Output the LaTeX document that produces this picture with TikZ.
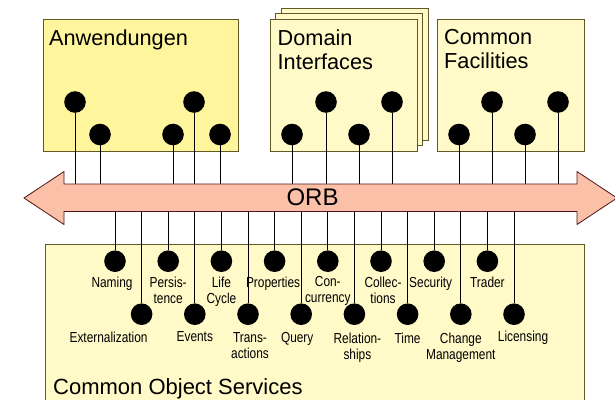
\documentclass[tikz,border=0pt]{standalone}
\usepackage{fontspec}
\setmainfont{Liberation Sans}
\newfontfamily\narrowsf[FakeStretch=0.82]{Liberation Sans}
\usetikzlibrary{positioning}
\definecolor{appyellow}{RGB}{255,245,157}
\definecolor{paleyellow}{RGB}{255,250,200}
\definecolor{boxedge}{RGB}{95,90,40}
\definecolor{orbfill}{RGB}{250,192,168}
\definecolor{orbedge}{RGB}{80,20,20}
\begin{document}
\begin{tikzpicture}[x=1pt,y=-1pt,
  dot/.style={circle,fill=black,minimum size=21.6pt,inner sep=0pt,outer sep=0pt},
  lab/.style={font=\narrowsf\fontsize{14.5}{16}\selectfont,inner sep=0pt,align=center},
  ttl/.style={font=\fontsize{21.7}{24}\selectfont,inner sep=0pt,align=left,anchor=north west},
  box/.style={draw=boxedge,line width=1pt},
  pin/.style={line width=0.8pt}]
\useasboundingbox (0,0) rectangle (615,399);
\clip (0,0) rectangle (615,399);
% boxes
\draw[box,fill=appyellow] (43,19) rectangle (238,151);
\draw[box,fill=paleyellow] (281,8) rectangle (428,140);
\draw[box,fill=paleyellow] (275.5,13.5) rectangle (422.5,145.5);
\draw[box,fill=paleyellow] (270,19) rectangle (417,151);
\draw[box,fill=paleyellow] (437,19) rectangle (584,151);
\draw[box,fill=paleyellow] (45,244) rectangle (584,420);
\node[ttl] (anw) at (49,29.3) {Anwendungen};
\node[ttl] (dom) at (277.5,29.5) {Domain\\Interfaces};
\node[ttl] (fac) at (444,29.5) {Common\\Facilities};
\node[ttl,font=\fontsize{22}{24}\selectfont] (cos) at (53,378) {Common Object Services};
% ORB
\coordinate (orbt) at (0,184);
\coordinate (orbb) at (0,211.5);
\draw[fill=orbfill,draw=orbedge,line width=0.8pt] (24,198) -- (64,171.5) -- (64,184) -- (577,184) -- (577,171.5) -- (617,198) -- (577,224.5) -- (577,211.5) -- (64,211.5) -- (64,224.5) -- cycle;
\node[font=\fontsize{24}{26}\selectfont,inner sep=0pt] (orb) at (312.5,197.5) {ORB};
% upper interfaces
\node[dot] (anw1) at (75,102) {};
\node[dot] (anw2) at (100,134.5) {};
\node[dot] (anw3) at (173,134.5) {};
\node[dot] (anw4) at (194,102) {};
\node[dot] (anw5) at (220,134.5) {};
\node[dot] (dom1) at (292,134.5) {};
\node[dot] (dom2) at (326,102) {};
\node[dot] (dom3) at (359,134.5) {};
\node[dot] (dom4) at (392,102) {};
\node[dot] (fac1) at (459,134.5) {};
\node[dot] (fac2) at (492,102) {};
\node[dot] (fac3) at (525,134.5) {};
\node[dot] (fac4) at (558,102) {};
\draw[pin] (anw1) -- (anw1|-orbt) (anw2) -- (anw2|-orbt) (anw3) -- (anw3|-orbt) (anw4) -- (anw4|-orbt) (anw5) -- (anw5|-orbt);
\draw[pin] (dom1) -- (dom1|-orbt) (dom2) -- (dom2|-orbt) (dom3) -- (dom3|-orbt) (dom4) -- (dom4|-orbt);
\draw[pin] (fac1) -- (fac1|-orbt) (fac2) -- (fac2|-orbt) (fac3) -- (fac3|-orbt) (fac4) -- (fac4|-orbt);
% services
\node[dot] (nam) at (115,261.2) {};
\node[dot] (ext) at (141.6,314.2) {};
\node[dot] (per) at (168.2,261.2) {};
\node[dot] (evt) at (194.8,314.2) {};
\node[dot] (lif) at (221.4,261.2) {};
\node[dot] (trn) at (248,314.2) {};
\node[dot] (prp) at (274.6,261.2) {};
\node[dot] (qry) at (301.2,314.2) {};
\node[dot] (cnc) at (327.8,261.2) {};
\node[dot] (rel) at (354.4,314.2) {};
\node[dot] (col) at (381,261.2) {};
\node[dot] (tim) at (407.6,314.2) {};
\node[dot] (sec) at (434.2,261.2) {};
\node[dot] (chg) at (460.8,314.2) {};
\node[dot] (trd) at (487.4,261.2) {};
\node[dot] (lic) at (514,314.2) {};
\draw[pin] (nam) -- (nam|-orbb) (ext) -- (ext|-orbb) (per) -- (per|-orbb) (evt) -- (evt|-orbb);
\draw[pin] (lif) -- (lif|-orbb) (trn) -- (trn|-orbb) (prp) -- (prp|-orbb) (qry) -- (qry|-orbb);
\draw[pin] (cnc) -- (cnc|-orbb) (rel) -- (rel|-orbb) (col) -- (col|-orbb) (tim) -- (tim|-orbb);
\draw[pin] (sec) -- (sec|-orbb) (chg) -- (chg|-orbb) (trd) -- (trd|-orbb) (lic) -- (lic|-orbb);
\node[lab,below=4.5pt of nam,xshift=-3pt] (namlab) {Naming};
\node[lab,below=4.5pt of per] (perlab) {Persis-\\tence};
\node[lab,below=4.5pt of lif] (liflab) {Life\\Cycle};
\node[lab,below=4.5pt of prp,xshift=-1.5pt] (prplab) {Properties};
\node[lab,below=4.5pt of cnc] (cnclab) {Con-\\currency};
\node[lab,below=4.5pt of col,xshift=2pt] (collab) {Collec-\\tions};
\node[lab,below=4.5pt of sec,xshift=-3.5pt] (seclab) {Security};
\node[lab,below=4.5pt of trd] (trdlab) {Trader};
\node[lab,below=6.5pt of ext,xshift=-33pt] (extlab) {Externalization};
\node[lab,below=6.5pt of evt] (evtlab) {Events};
\node[lab,below=7.5pt of trn,xshift=2pt] (trnlab) {Trans-\\actions};
\node[lab,below=7.5pt of qry,xshift=-4pt] (qrylab) {Query};
\node[lab,below=7.5pt of rel,xshift=3pt] (rellab) {Relation-\\ships};
\node[lab,below=7.5pt of tim] (timlab) {Time};
\node[lab,below=7.5pt of chg] (chglab) {Change\\Management};
\node[lab,below=6pt of lic,xshift=9pt] (liclab) {Licensing};
\end{tikzpicture}
\end{document}
